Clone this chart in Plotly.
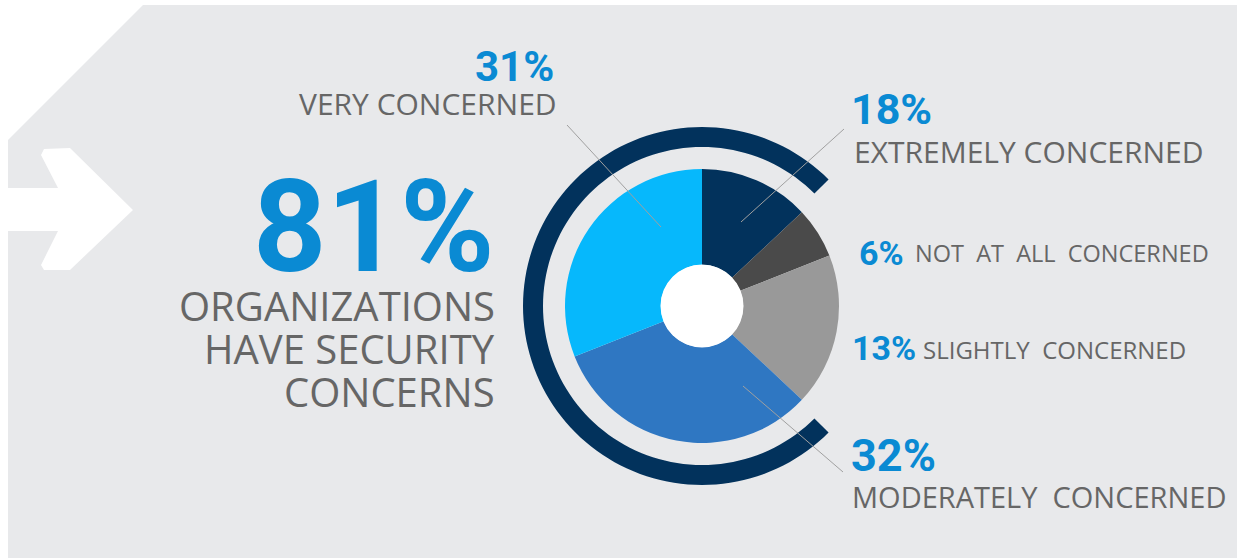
import math
import plotly.graph_objects as go

W, H = 1237, 558

# ---- data ----
categories = ["EXTREMELY CONCERNED", "NOT AT ALL CONCERNED", "SLIGHTLY CONCERNED",
              "MODERATELY CONCERNED", "VERY CONCERNED"]
label_pct = [18, 6, 13, 32, 31]          # numbers printed next to each category
slice_shares = [13, 6, 18, 32, 31]       # slice sizes as drawn in the ring
slice_colors = ["#02325C", "#4A4A4A", "#999999", "#2F77C2", "#06B8FC"]
headline_pct = 81
headline_lines = ["ORGANIZATIONS", "HAVE SECURITY", "CONCERNS"]

BLUE = "#0A8AD3"
GREY_TXT = "#666666"
BG = "#E8E9EB"


def X(px):
    return px / W


def Y(py):
    return 1 - py / H


cx, cy, R = 702, 306, 137

fig = go.Figure()
fig.add_trace(go.Pie(
    values=slice_shares, labels=categories, marker=dict(colors=slice_colors, line=dict(width=0)),
    sort=False, direction="clockwise", rotation=0, hole=0.3, textinfo="none",
    hoverinfo="label+percent", showlegend=False,
    domain=dict(x=[X(cx - R), X(cx + R)], y=[Y(cy + R), Y(cy - R)]),
))

shapes = []
# gray background with cut corner
bg = [(143, 5), (W, 5), (W, H), (8, H), (8, 140)]
shapes.append(dict(type="path", xref="paper", yref="paper", layer="below",
                   path="M" + " L".join(f"{X(a)},{Y(b)}" for a, b in bg) + " Z",
                   fillcolor=BG, line=dict(width=0)))
# white arrow
arrow = [(0, 188), (58, 188), (41, 155), (44, 149), (70, 148), (133, 210), (70, 270),
         (44, 270), (41, 265), (58, 231), (0, 231)]
shapes.append(dict(type="path", xref="paper", yref="paper", layer="below",
                   path="M" + " L".join(f"{X(a)},{Y(b)}" for a, b in arrow) + " Z",
                   fillcolor="#FFFFFF", line=dict(width=0)))
# navy C-arc
r_out, r_in = 179, 159
a0, a1 = 45, 315
n = 120
pts = []
for i in range(n + 1):
    a = math.radians(a0 + (a1 - a0) * i / n)
    pts.append((cx + r_out * math.cos(a), cy - r_out * math.sin(a)))
for i in range(n, -1, -1):
    a = math.radians(a0 + (a1 - a0) * i / n)
    pts.append((cx + r_in * math.cos(a), cy - r_in * math.sin(a)))
shapes.append(dict(type="path", xref="paper", yref="paper", layer="above",
                   path="M" + " L".join(f"{X(a)},{Y(b)}" for a, b in pts) + " Z",
                   fillcolor="#02325C", line=dict(width=0)))
# white hole
hr = 41.5
shapes.append(dict(type="circle", xref="paper", yref="paper", layer="above",
                   x0=X(cx - hr), x1=X(cx + hr), y0=Y(cy + hr), y1=Y(cy - hr),
                   fillcolor="#FFFFFF", line=dict(width=0)))
# leader lines
for (x0, y0, x1, y1) in [(567, 125, 661, 227), (844, 129, 741, 222), (743, 386, 843, 472)]:
    shapes.append(dict(type="line", xref="paper", yref="paper", layer="above",
                       x0=X(x0), y0=Y(y0), x1=X(x1), y1=Y(y1),
                       line=dict(color="#A0A0A0", width=1)))

ann = []


def txt(x, y, s, size, color, family, xanchor, bold=False):
    ann.append(dict(x=X(x), y=Y(y), xref="paper", yref="paper", text=(f"<b>{s}</b>" if bold else s),
                    showarrow=False, xanchor=xanchor, yanchor="middle",
                    font=dict(size=size, color=color, family=family)))


NB = "\u00a0"
PF = "Roboto"
TF = "Open Sans"
# headline block
txt(497, 227, f"{headline_pct}%", 128, BLUE, PF, "right", True)
for i, line in enumerate(headline_lines):
    txt(497, 305 + i * 43, line, 40, GREY_TXT, TF, "right")

# VERY
txt(556, 67, f"{label_pct[4]}%", 42, BLUE, PF, "right", True)
txt(559, 104, categories[4], 30, GREY_TXT, TF, "right")
# EXTREMELY
txt(849, 109, f"{label_pct[0]}%", 43, BLUE, PF, "left", True)
txt(852, 151, categories[0], 30, GREY_TXT, TF, "left")
# NOT AT ALL
txt(857, 253, f"{label_pct[1]}%", 34, BLUE, PF, "left", True)
txt(913, 253, categories[1].replace(" ", NB + NB), 23.5, GREY_TXT, TF, "left")
# SLIGHTLY
txt(850, 348, f"{label_pct[2]}%", 34, BLUE, PF, "left", True)
txt(921, 349, categories[2].replace(" ", NB + NB), 24, GREY_TXT, TF, "left")
# MODERATELY
txt(849, 455, f"{label_pct[3]}%", 45, BLUE, PF, "left", True)
txt(850, 496, categories[3].replace(" ", NB + " "), 29, GREY_TXT, TF, "left")

fig.update_layout(
    width=W, height=H, margin=dict(l=0, r=0, t=0, b=0),
    paper_bgcolor="#FFFFFF", plot_bgcolor="rgba(0,0,0,0)",
    shapes=shapes, annotations=ann, showlegend=False,
)
fig.write_html("out.html", config={"displayModeBar": False},
               post_script="document.body.style.margin='0';")
